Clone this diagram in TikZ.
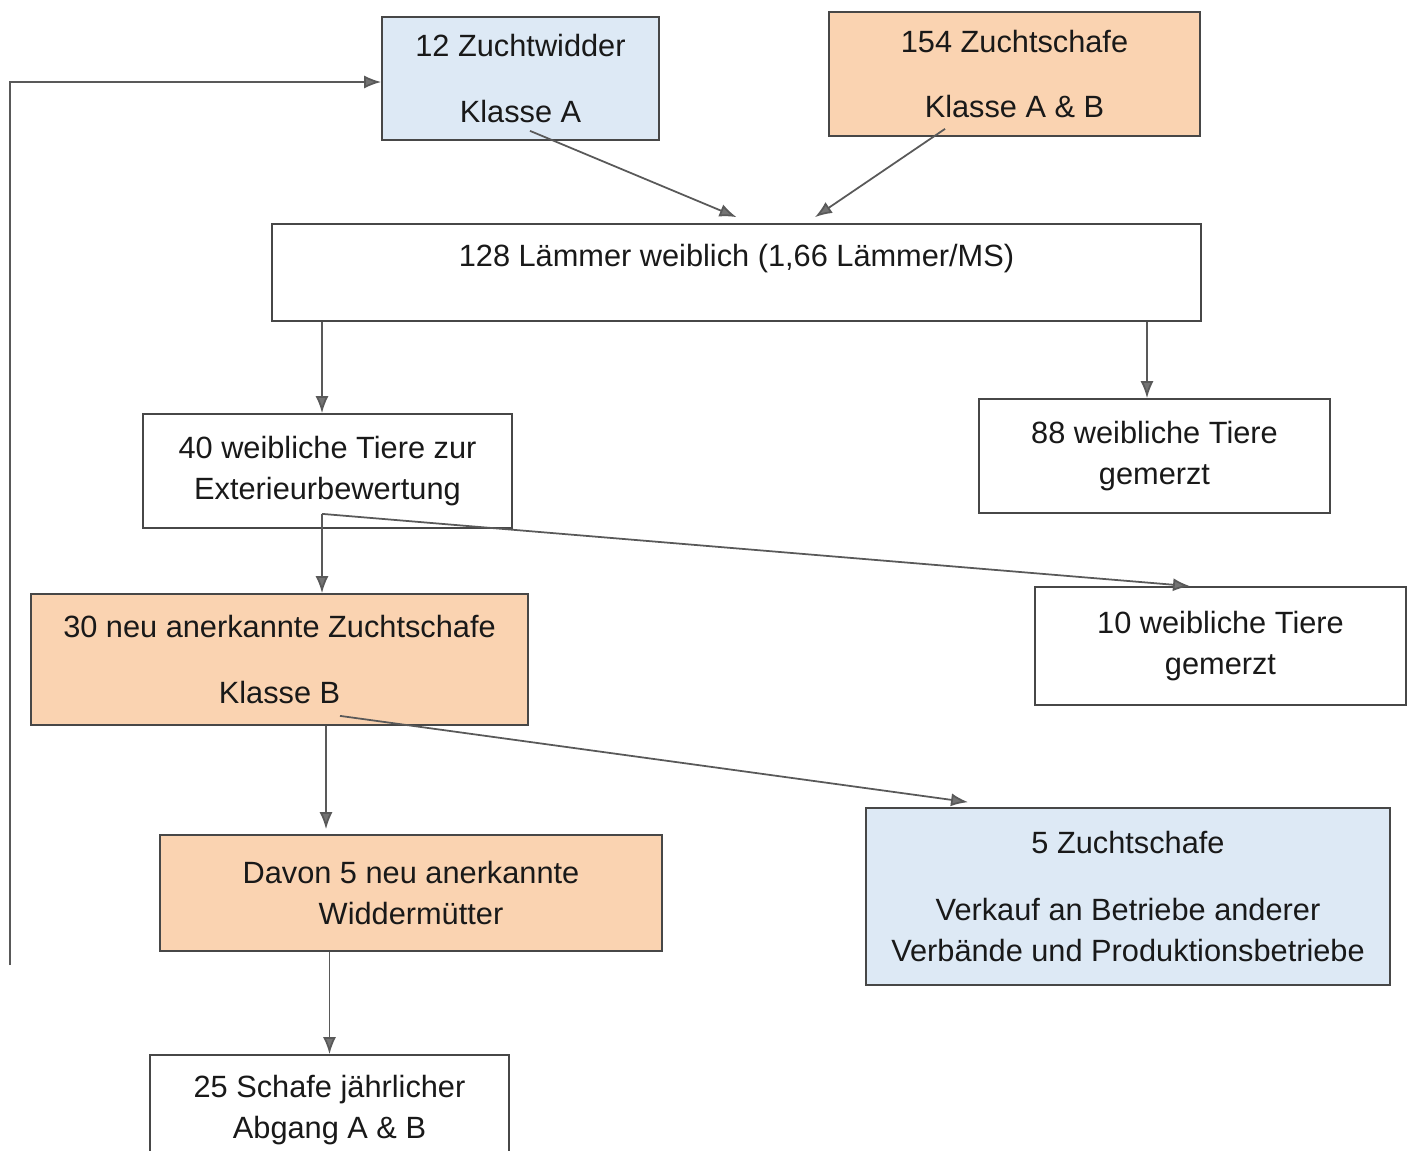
\documentclass[tikz,border=0pt]{standalone}
\usepackage{xcolor}
\usepackage{fontspec}
\setmainfont{Liberation Sans}
\usepackage{tikz}
\usetikzlibrary{arrows.meta}

\definecolor{boxblue}{HTML}{DDE9F5}
\definecolor{boxorange}{HTML}{FAD3B1}
\definecolor{linegray}{HTML}{474747}

\begin{document}
\begin{tikzpicture}[x=0.02cm, y=-0.02cm,
	box/.style={draw=linegray, line width=1pt, rectangle, align=center, inner sep=0pt,
		font=\fontsize{17.5}{23.5}\selectfont, text=black!90},
	bluebox/.style={box, fill=boxblue},
	orangebox/.style={box, fill=boxorange},
	flow/.style={draw=linegray!90, line width=1pt, -{Latex[length=0.34cm, width=0.26cm, fill=gray!90!black]}}]

	\clip (0,0) rectangle (1412,1150);
	\fill[white] (0,0) rectangle (1412,1150);

	\node[bluebox, minimum width=5.54cm, minimum height=2.46cm] (widder) at (520.5,78.5)
		{12 Zuchtwidder\\[0.48cm]Klasse A};
	\node[orangebox, minimum width=7.42cm, minimum height=2.48cm] (schafe) at (1014.5,74)
		{154 Zuchtschafe\\[0.48cm]Klasse A \& B};
	\node[box, minimum width=18.58cm, minimum height=1.94cm, text height=0.5cm, text depth=0.76cm] (laemmer) at (736.5,272.5)
		{128 Lämmer weiblich (1,66 Lämmer/MS)};
	\node[box, minimum width=7.38cm, minimum height=2.28cm] (bew) at (327.5,471)
		{40 weibliche Tiere zur\\Exterieurbewertung};
	\node[box, minimum width=7.02cm, minimum height=2.28cm] (merz1) at (1154.5,456)
		{88 weibliche Tiere\\gemerzt};
	\node[orangebox, minimum width=9.94cm, minimum height=2.62cm] (neu) at (279.5,659.5)
		{30 neu anerkannte Zuchtschafe\\[0.48cm]Klasse B};
	\node[box, minimum width=7.42cm, minimum height=2.36cm] (merz2) at (1220.5,646)
		{10 weibliche Tiere\\gemerzt};
	\node[orangebox, minimum width=10.04cm, minimum height=2.32cm] (davon) at (411,893)
		{Davon 5 neu anerkannte\\Widdermütter};
	\node[bluebox, minimum width=10.48cm, minimum height=3.54cm] (verkauf) at (1128,896.5)
		{5 Zuchtschafe\\[0.52cm]Verkauf an Betriebe anderer\\Verbände und Produktionsbetriebe};
	\node[box, minimum width=7.18cm, minimum height=2.2cm] (abgang) at (329.5,1110)
		{25 Schafe jährlicher\\Abgang A \& B};

	% Elterntiere
	\draw[flow] ([xshift=0.19cm, yshift=0.2cm]widder.south) -- ([yshift=0.12cm]laemmer.north);
	\draw[flow] ([xshift=-1.39cm, yshift=0.16cm]schafe.south) -- ([xshift=1.57cm, yshift=0.12cm]laemmer.north);

	% Aufteilung
	\draw[flow] ([xshift=-0.11cm]bew.north |- laemmer.south) -- ([xshift=-0.11cm]bew.north);
	\draw[flow] ([xshift=-0.15cm]merz1.north |- laemmer.south) -- ([xshift=-0.15cm]merz1.north);

	\coordinate (fork1) at ([xshift=-0.11cm, yshift=0.3cm]bew.south);
	\draw[flow] (fork1) -- (fork1 |- neu.north);
	\draw[flow] (fork1) -- ([xshift=-0.61cm]merz2.north);

	\coordinate (fork2) at ([xshift=1.21cm, yshift=0.2cm]neu.south);
	\draw[flow] ([xshift=0.93cm]neu.south) -- ([xshift=-1.7cm, yshift=0.1cm]davon.north);
	\draw[flow] (fork2) -- ([xshift=-3.2cm, yshift=0.1cm]verkauf.north);

	\draw[flow] (abgang.north |- davon.south) -- (abgang.north);

	% Rueckfuehrung
	\coordinate (loop) at (10,965);
	\draw[flow] (loop) |- ([yshift=-0.07cm]widder.west);

\end{tikzpicture}
\end{document}
